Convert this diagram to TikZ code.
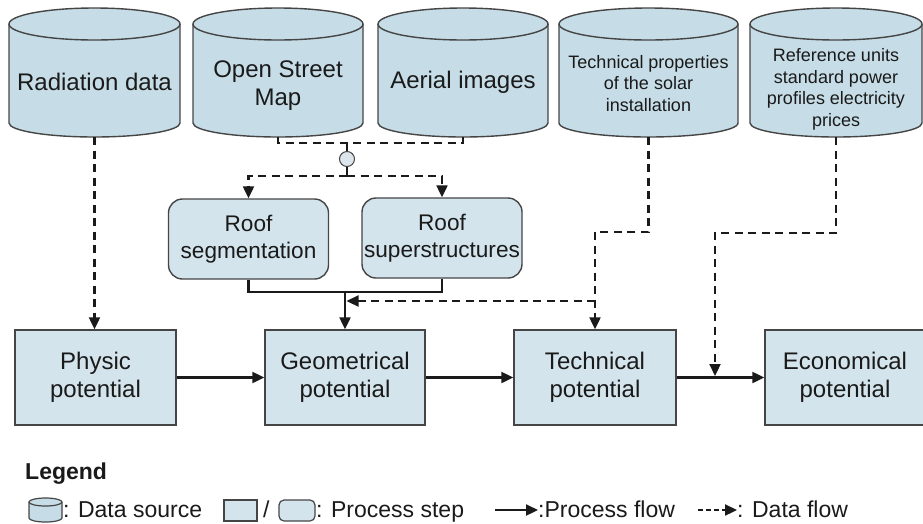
\documentclass[tikz,border=0pt]{standalone}
\usepackage{fontspec}
\setmainfont{Liberation Sans}
\usetikzlibrary{arrows.meta}
\definecolor{cylfill}{HTML}{C6DCE6}
\definecolor{boxfill}{HTML}{D3E4EC}
\definecolor{edge}{HTML}{454545}
\definecolor{ink}{HTML}{1A1A1A}
\definecolor{jnfill}{HTML}{DCE5EC}

% data source drawn as a cylinder between two x positions, with an
% invisible node (#3) covering its full extent for the connectors
\newcommand\datacyl[3]{%
  \pgfmathsetmacro\cylrx{(#2-#1)/2}%
  \pgfmathsetmacro\cylcx{(#1+#2)/2}%
  \filldraw[fill=cylfill, draw=edge, line width=1.4pt]
    (#1,24) arc[start angle=180,end angle=0,x radius=\cylrx pt,y radius=16pt]
    -- (#2,123) arc[start angle=0,end angle=-180,x radius=\cylrx pt,y radius=14pt] -- cycle;
  \draw[edge, line width=1.4pt]
    (#1,24) arc[start angle=180,end angle=360,x radius=\cylrx pt,y radius=16pt];
  \node[anchorbox, minimum width=(#2-#1)*1pt] (#3) at (\cylcx,72.5) {};
}

\begin{document}
\begin{tikzpicture}[x=1pt,y=-1pt,
  big/.style={font=\fontsize{24}{28}\selectfont, text=ink, align=center},
  small/.style={font=\fontsize{18}{21.5}\selectfont, text=ink, align=center},
  legtext/.style={font=\fontsize{23}{27}\selectfont, text=ink, anchor=base west, inner sep=0pt},
  anchorbox/.style={rectangle, inner sep=0pt, minimum height=129pt},
  procbox/.style={rectangle, draw=edge, fill=boxfill, line width=1.4pt,
    minimum width=161pt, minimum height=95pt, big},
  roofbox/.style={rectangle, rounded corners=14pt, draw=edge, fill=boxfill,
    line width=1.4pt, minimum width=160pt, minimum height=80pt, inner sep=0pt,
    font=\fontsize{22.6}{27}\selectfont, text=ink, align=center},
  junction/.style={circle, draw=edge, fill=jnfill, line width=1pt, minimum size=15pt, inner sep=0pt},
  flow/.style={line width=2.2pt, draw=ink},
  dataflow/.style={flow, dash pattern=on 8pt off 5.5pt},
  tip/.style={-{Triangle[length=12pt,width=11pt]}},
]
\useasboundingbox (0,0) rectangle (923,523);

% data sources
\datacyl{9}{180}{rad}
\datacyl{193}{363}{osm}
\datacyl{378}{548}{aer}
\datacyl{559}{738}{tps}
\datacyl{750}{922}{ref}
\node[big] at (94.5,82) {Radiation data};
\node[big] at (278,86) {Open Street\\Map};
\node[big] at (463,82) {Aerial images};
\node[small] at (648.5,83.5) {Technical properties\\of the solar\\installation};
\node[small] at (836,89.5) {Reference units\\standard power\\profiles electricity\\prices};

% roof analysis steps
\node[roofbox] (rseg) at (248.5,239) {Roof\\segmentation};
\node[roofbox] (rsup) at (442,238) {Roof\\superstructures};

% potentials
\node[procbox] (phys) at (95.5,377.5) {Physic\\potential};
\node[procbox, minimum width=160pt] (geo) at (345,377.5) {Geometrical\\potential};
\node[procbox, minimum width=162pt] (tech) at (595,377.5) {Technical\\potential};
\node[procbox, minimum width=160pt] (econ) at (845,377.5) {Economical\\potential};

% merge of map and aerial data
\coordinate (m1) at (347,143);
\node[junction] (jn) at (347,159) {};
\coordinate (m2) at (347,176);
\draw[dataflow] (osm.south) |- (m1) -| (aer.south);
\draw[dataflow] (m1) -- (jn.north);
\draw[dataflow] (jn.south) -- (m2);
\draw[dataflow,tip] (m2) -| (rseg.north);
\draw[dataflow,tip] (m2) -| (rsup.north);

% radiation data
\draw[dataflow,tip] (rad.south) -- (rad.south |- phys.north);

% roof results into the geometrical potential
\coordinate (m3) at (345,292);
\draw[flow] (rseg.south) |- (m3) -| (rsup.south);
\draw[flow,tip] (m3) -- (geo.north);

% technical properties
\coordinate (m4) at (595,232);
\coordinate (m5) at (595,301);
\coordinate (m6) at (346.5,301);
\draw[dataflow,tip] (tps.south) |- (m4) -- (tech.north);
\draw[dataflow,tip] (m5) -- (m6);

% reference data
\coordinate (m7) at (715,233);
\coordinate (m8) at (715,376);
\draw[dataflow,tip] (ref.south) |- (m7) -- (m8);

% process flow
\draw[flow,tip] (phys.east) -- (geo.west);
\draw[flow,tip] (geo.east) -- (tech.west);
\draw[flow,tip] (tech.east) -- (econ.west);

% legend
\node[legtext, font=\bfseries\fontsize{23}{27}\selectfont] (legtitle) at (25,479) {Legend};
\filldraw[fill=cylfill, draw=edge, line width=1.2pt]
  (29,502) arc[start angle=180,end angle=0,x radius=16.5pt,y radius=4pt]
  -- (62,518) arc[start angle=0,end angle=-180,x radius=16.5pt,y radius=4pt] -- cycle;
\draw[edge, line width=1.2pt] (29,502) arc[start angle=180,end angle=360,x radius=16.5pt,y radius=4pt];
\node[legtext] (legds) at (63,517) {: Data source};
\filldraw[fill=boxfill, draw=edge, line width=1.2pt] (224,500) rectangle (257,521);
\node[legtext] (legsl) at (263,517) {/};
\filldraw[fill=boxfill, draw=edge, line width=1.2pt, rounded corners=5pt] (279,500) rectangle (315,521);
\node[legtext] (legps) at (316,517) {: Process step};
\coordinate (lpa) at (495,510);
\coordinate (lpb) at (538,510);
\draw[flow,tip] (lpa) -- (lpb);
\node[legtext] (legpf) at (538,517) {:Process flow};
\coordinate (lda) at (698,510);
\coordinate (ldb) at (737,510);
\draw[flow,tip,dash pattern=on 5pt off 3pt] (lda) -- (ldb);
\node[legtext] (legdf) at (737,517) {: Data flow};
\end{tikzpicture}
\end{document}
